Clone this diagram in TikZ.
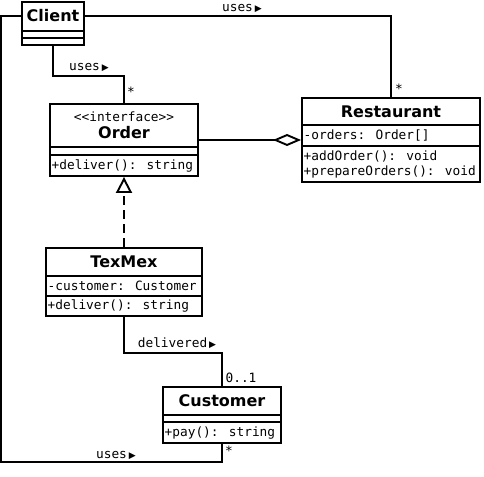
\documentclass[tikz,border=0pt]{standalone}
\usepackage{fontspec}
\setmainfont{DejaVu Sans}
\newfontfamily\monof{DejaVu Sans Mono}
\usetikzlibrary{arrows.meta}
\begin{document}
\begin{tikzpicture}[x=1pt,y=-1pt,
  cls/.style={draw, line width=1.9pt, inner sep=0pt, rectangle},
  nm/.style={inner sep=0pt, font=\fontsize{16}{19}\selectfont\bfseries},
  mt/.style={inner sep=0pt, anchor=west, font=\monof\fontsize{12.8}{15}\selectfont},
  lbl/.style={inner sep=0pt, font=\monof\fontsize{12.8}{15}\selectfont},
  sep/.style={line width=1.9pt},
  conn/.style={line width=1.9pt}]
\useasboundingbox (0,0) rectangle (484,476);
\newcommand{\tri}{\kern2pt{\fontspec{DejaVu Sans}\fontsize{9}{10}\selectfont\char"25B6}}
% Client
\node[cls, minimum width=62pt, minimum height=43pt] (client) at (53,23.5) {};
\node[nm, minimum width=62pt, minimum height=28pt] (clientN) at (53,16) {Client};
\draw[sep] (22,31) -- (84,31);
\draw[sep] (22,38) -- (84,38);
% Order
\node[cls, minimum width=148pt, minimum height=72pt] (order) at (124,140) {};
\node[lbl] (orderS) at (124,117) {<<interface>>};
\node[nm] (orderN) at (124,133) {Order};
\draw[sep] (50,147) -- (198,147);
\draw[sep] (50,155) -- (198,155);
\node[mt] (orderM) at (51.5,165.5) {+deliver(): string};
% Restaurant
\node[cls, minimum width=178pt, minimum height=84pt] (restaurant) at (391,140) {};
\node[nm] (restN) at (391,111.5) {Restaurant};
\draw[sep] (302,125) -- (480,125);
\draw[sep] (302,146) -- (480,146);
\node[mt] (restA) at (303.5,135.5) {-orders: Order[]};
\node[mt] (restM1) at (303.5,156) {+addOrder(): void};
\node[mt] (restM2) at (303.5,172) {+prepareOrders(): void};
% TexMex
\node[cls, minimum width=156pt, minimum height=68pt] (texmex) at (124,282) {};
\node[nm] (texN) at (124,262) {TexMex};
\draw[sep] (46,276) -- (202,276);
\draw[sep] (46,296) -- (202,296);
\node[mt] (texA) at (47.5,286) {-customer: Customer};
\node[mt] (texM) at (47.5,306) {+deliver(): string};
% Customer
\node[cls, minimum width=118pt, minimum height=56pt] (customer) at (222,415) {};
\node[nm] (custN) at (222,401) {Customer};
\draw[sep] (163,415) -- (281,415);
\draw[sep] (163,422) -- (281,422);
\node[mt] (custM) at (164.5,433) {+pay(): string};
% connectors
\coordinate (lc) at (1,462);
\draw[conn] (clientN.east) -| (restaurant.north);
\draw[conn] (clientN.west) -| (lc) -| (customer.south);
\draw[conn] (client.south) -- ++(0,30) -| (order.north);
\draw[conn] (texmex.south) -- ++(0,36) -| (customer.north);
\draw[conn, -{Diamond[open, length=28pt, width=12pt, line width=1.9pt]}] (order.east) -- (restaurant.west);
\draw[conn, dash pattern=on 9pt off 5pt, -{Triangle[open, length=16pt, width=16pt, line width=1.9pt]}] (texmex.north) -- (order.south);
% labels
\node[lbl] (l1) at (242,8) {uses\tri};
\node[lbl] (l2) at (89,67) {uses\tri};
\node[lbl] (l3) at (116,455) {uses\tri};
\node[lbl] (l4) at (177,343) {delivered\tri};
\node[lbl] (l5) at (241,378) {0..1};
\node[lbl] (s1) at (131,92) {*};
\node[lbl] (s2) at (399,89) {*};
\node[lbl] (s3) at (229,451) {*};
\end{tikzpicture}
\end{document}
